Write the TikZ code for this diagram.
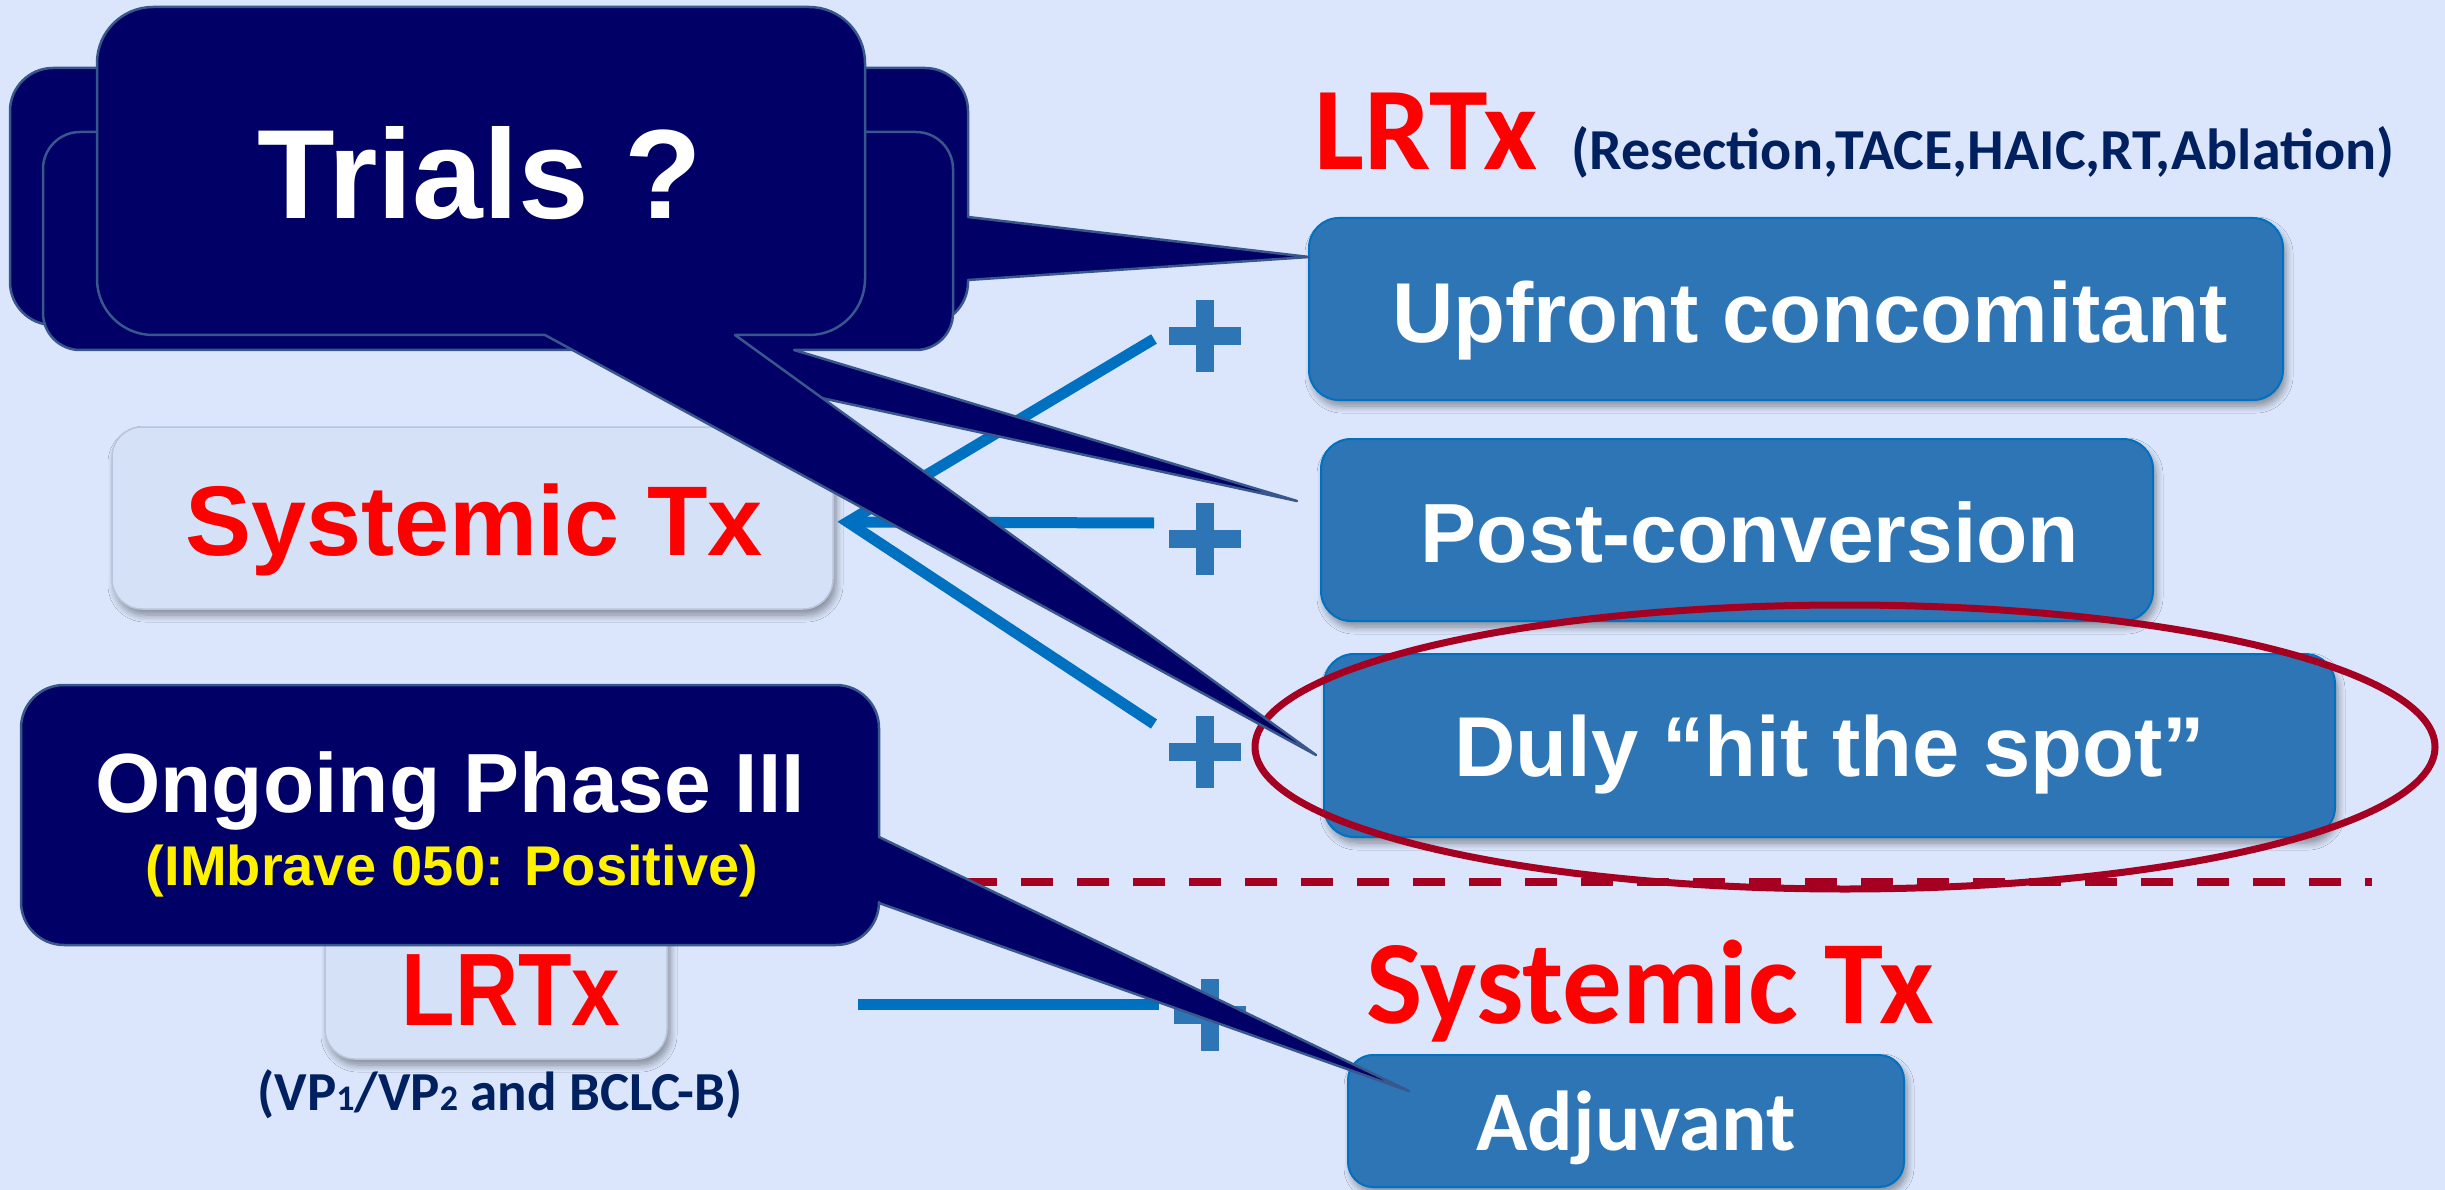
\documentclass[tikz,border=0pt]{standalone}
\usepackage{fontspec}
\usepackage{graphicx}
\setmainfont{Liberation Sans}
\newfontfamily\calfont{Carlito}
\newfontfamily\narrowfont[FakeStretch=0.85]{Liberation Sans}
\usetikzlibrary{calc,shadows.blur}

\definecolor{bgblue}{RGB}{219,230,252}
\definecolor{navy}{RGB}{0,0,102}
\definecolor{navyedge}{RGB}{56,87,140}
\definecolor{boxblue}{RGB}{46,117,182}
\definecolor{boxedge}{RGB}{0,112,192}
\definecolor{connblue}{RGB}{0,112,192}
\definecolor{plusblue}{RGB}{46,117,182}
\definecolor{ringred}{RGB}{165,0,33}
\definecolor{inkblue}{RGB}{0,32,96}
\definecolor{palefill}{RGB}{212,225,247}
\definecolor{paleedge}{RGB}{185,197,220}

\newcommand\fsz[1]{\fontsize{#1pt}{#1pt}\selectfont}

% rounded callout, tail on the bottom edge: x1 y1 x2 y2 r tailA tailB tip
\newcommand\calloutBottom[8]{%
  \pgfmathsetmacro\ck{0.448*#5}%
  \path[callout] ({#1+#5},#2) -- ({#3-#5},#2)
    .. controls ({#3-\ck},#2) and (#3,{#2+\ck}) .. (#3,{#2+#5})
    -- (#3,{#4-#5})
    .. controls (#3,{#4-\ck}) and ({#3-\ck},#4) .. ({#3-#5},#4)
    -- (#7,#4) -- (#8) -- (#6,#4)
    -- ({#1+#5},#4)
    .. controls ({#1+\ck},#4) and (#1,{#4-\ck}) .. (#1,{#4-#5})
    -- (#1,{#2+#5})
    .. controls (#1,{#2+\ck}) and ({#1+\ck},#2) .. ({#1+#5},#2) -- cycle;}

% rounded callout, tail on the right edge: x1 y1 x2 y2 r tailA tailB tip
\newcommand\calloutRight[8]{%
  \pgfmathsetmacro\ck{0.448*#5}%
  \path[callout] ({#1+#5},#2) -- ({#3-#5},#2)
    .. controls ({#3-\ck},#2) and (#3,{#2+\ck}) .. (#3,{#2+#5})
    -- (#3,#6) -- (#8) -- (#3,#7)
    -- (#3,{#4-#5})
    .. controls (#3,{#4-\ck}) and ({#3-\ck},#4) .. ({#3-#5},#4)
    -- ({#1+#5},#4)
    .. controls ({#1+\ck},#4) and (#1,{#4-\ck}) .. (#1,{#4-#5})
    -- (#1,{#2+#5})
    .. controls (#1,{#2+\ck}) and ({#1+\ck},#2) .. ({#1+#5},#2) -- cycle;}

\tikzset{
  softshadow/.style={blur shadow={shadow xshift=3pt, shadow yshift=-6pt,
      shadow blur radius=7pt, shadow blur steps=8, shadow opacity=40}},
  bluebox/.style={draw=boxedge, line width=2pt, fill=boxblue,
      rounded corners=30pt, softshadow, inner sep=0pt},
  palebox/.style={draw=paleedge, line width=1.5pt, fill=palefill,
      rounded corners=30pt, softshadow, inner sep=0pt},
  callout/.style={fill=navy, draw=navyedge, line width=2.5pt, line join=round},
  conn/.style={draw=connblue, line width=11pt, line join=miter},
  plusbar/.style={fill=plusblue},
  ring/.style={draw=ringred, line width=7pt},
  divider/.style={draw=ringred, line width=8pt, dash pattern=on 32pt off 24pt},
  lbl/.style={inner sep=0pt, anchor=base},
}

\begin{document}
\begin{tikzpicture}[x=1pt, y=-1pt]
\useasboundingbox (0,0) rectangle (2445,1190);
\fill[bgblue] (0,0) rectangle (2445,1190);

% treatment boxes
\node[bluebox, minimum width=974pt, minimum height=182pt] (upfront) at (1796,309) {};
\node[bluebox, minimum width=832pt, minimum height=182pt] (postconv) at (1737,530) {};
\node[bluebox, minimum width=1011pt, minimum height=183pt] (duly) at (1829.5,745.5) {};
\node[bluebox, rounded corners=25pt, minimum width=556pt, minimum height=132pt] (adjuv) at (1626,1121) {};
\node[palebox, minimum width=721pt, minimum height=182pt] (sys) at (472.5,518) {};
\node[palebox, minimum width=342pt, minimum height=169pt] (lrtxbox) at (496,974.5) {};

% highlight ring and divider
\draw[ring] (1845,747) ellipse [x radius=590, y radius=142];
\coordinate (divL) at (965,882);
\coordinate (divR) at (2372,882);
\draw[divider] (divL) -- (divR);

% plus signs
\coordinate (p1) at (1205,336);
\coordinate (p2) at (1205,539);
\coordinate (p3) at (1205,752);
\coordinate (p4) at (1210,1015);
\foreach \p in {p1,p2,p3,p4}{
  \fill[plusbar] ($(\p)+(-36,-9)$) rectangle ($(\p)+(36,9)$);
  \fill[plusbar] ($(\p)+(-9,-36)$) rectangle ($(\p)+(9,36)$);
}

% connectors into the systemic therapy box
\coordinate (vtx) at ($(sys.east)+(14,4)$);
\draw[conn] ($(p1)+(-51,3)$) -- (vtx) -- ($(p3)+(-51,-28)$);
\draw[conn] (vtx) -- ($(p2)+(-51,-16)$);
\draw[conn] ($(p4)+(-352,-11)$) -- ($(p4)+(-51,-11)$);

% callout tips
\coordinate (tipUp) at (1309,257);
\coordinate (tipPost) at (1297,501);
\coordinate (tipDuly) at (1316,755);
\coordinate (tipAdj) at (1409,1091);

% stacked "Trials" callouts
\calloutRight{10}{68}{968}{325}{43}{217}{280}{tipUp}
\calloutBottom{43}{132}{953}{350}{37}{600}{794}{tipPost}
\calloutBottom{97}{7}{865}{335}{56}{545}{735}{tipDuly}
% phase III callout
\calloutRight{21}{685}{879}{945}{43}{837}{903}{tipAdj}

% texts
\node[lbl, text=white, font=\fsz{127}\bfseries] (trialsT) at (480,219) {Trials ?};
\node[lbl, anchor=base west, text=red, font=\calfont\fsz{118}\bfseries] (lrtxTop) at (1314,170) {LRTx};
\node[lbl, anchor=base west, text=inkblue, font=\calfont\fsz{58}\bfseries] (lrtxList) at (1571,170) {(Resection,TACE,HAIC,RT,Ablation)};
\node[lbl, text=white, font=\fsz{85}\bfseries] (upT) at (1810,342) {Upfront concomitant};
\node[lbl, text=white, font=\fsz{84}\bfseries] (postT) at (1750,562) {Post-conversion};
\node[lbl, text=white, font=\fsz{85}\bfseries] (dulyT) at (1830,776) {Duly ``hit the spot''};
\node[lbl, text=red, font=\fsz{99}\bfseries] (sysT) at (474,555) {Systemic Tx};
\node[lbl, text=white, font=\fsz{84}\bfseries] (ongT) at (450,812) {Ongoing Phase III};
\node[lbl, text=yellow, font=\fsz{56}\bfseries] (imbT) at (452,885) {(IMbrave 050: Positive)};
\node[lbl, text=red, font=\narrowfont\fsz{103}\bfseries] (lrtxT) at (511,1025) {LRTx};
\node[lbl, text=inkblue, font=\calfont\fsz{55}\bfseries] (vpT) at (500,1110)
  {(VP{\fsz{36}1}/VP{\fsz{36}2} and BCLC-B)};
\node[lbl, text=red, font=\calfont\fsz{119}\bfseries] (sysAdjT) at (1650,1023) {Systemic Tx};
\node[lbl, text=white, font=\calfont\fsz{85}\bfseries] (adjT) at (1636,1150) {Adjuvant};
\end{tikzpicture}
\end{document}
